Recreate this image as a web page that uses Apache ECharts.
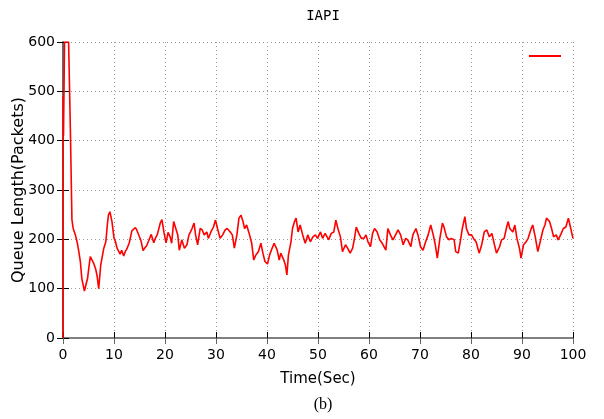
<!DOCTYPE html>
<html>
<head>
<meta charset="utf-8">
<script src="https://cdn.jsdelivr.net/npm/echarts@6/dist/echarts.min.js"></script>
<style>
  html, body { margin: 0; padding: 0; background: #fff; }
  #chart { width: 604px; height: 419px; }
</style>
</head>
<body>
<div id="chart"></div>
<script>
// time (sec) and queue length (packets)
const times = [
  0, 0.02, 0.1, 0.3, 1.1, 1.45, 1.75, 2.0, 2.4, 2.8, 3.1, 3.4, 3.7, 4.2, 4.5, 4.8, 5.1, 5.35, 5.7, 6.0,
  6.4, 6.7, 7.0, 7.4, 7.7, 8.0, 8.4, 8.7, 8.9, 9.2, 9.6, 10.0, 10.3, 10.6, 10.9, 11.2, 11.5, 11.9, 12.2, 12.5,
  13.0, 13.5, 13.8, 14.2, 14.5, 14.8, 15.3, 15.7, 16.0, 16.4, 16.8, 17.3, 17.8, 18.1, 18.5, 18.8, 19.1, 19.4, 19.8, 20.2,
  20.6, 21.0, 21.3, 21.7, 22.0, 22.5, 22.8, 23.3, 23.8, 24.3, 24.7, 25.0, 25.3, 25.7, 26.0, 26.4, 26.9, 27.3, 27.7, 28.2,
  28.5, 29.0, 29.5, 29.9, 30.3, 30.8, 31.3, 31.8, 32.2, 32.8, 33.2, 33.6, 34.1, 34.5, 34.9, 35.3, 35.6, 36.0, 36.5, 37.0,
  37.4, 37.8, 38.3, 38.8, 39.2, 39.6, 40.1, 40.5, 41.0, 41.4, 42.0, 42.4, 42.7, 43.3, 43.6, 43.9, 44.2, 44.7, 45.0, 45.4,
  45.7, 46.1, 46.5, 47.0, 47.5, 48.0, 48.5, 49.0, 49.5, 49.9, 50.5, 50.9, 51.4, 52.1, 52.6, 53.1, 53.5, 53.9, 54.4, 54.8,
  55.4, 55.8, 56.3, 56.8, 57.2, 57.5, 58.0, 58.5, 59.0, 59.4, 59.8, 60.3, 60.7, 61.1, 61.6, 62.1, 62.6, 63.3, 63.7, 64.2,
  64.7, 65.2, 65.7, 66.2, 66.7, 67.2, 67.6, 68.2, 68.6, 69.2, 69.6, 70.1, 70.6, 71.1, 71.6, 72.1, 72.6, 73.0, 73.4, 73.9,
  74.4, 74.7, 75.2, 75.7, 76.1, 76.7, 77.0, 77.5, 78.0, 78.3, 78.8, 79.1, 79.6, 80.1, 80.6, 81.0, 81.6, 82.1, 82.6, 83.1,
  83.6, 84.1, 84.6, 85.0, 85.6, 86.0, 86.5, 87.0, 87.3, 87.6, 88.2, 88.6, 89.0, 89.5, 89.8, 90.3, 90.8, 91.2, 91.8, 92.1,
  92.6, 93.1, 93.5, 94.1, 94.5, 94.8, 95.4, 95.8, 96.2, 96.7, 97.1, 97.7, 98.1, 98.6, 99.1, 99.4, 100.0
];
const queueLen = [
  0, 490, 410, 600, 600, 420, 240, 222, 210, 193, 175, 155, 120, 95, 108, 120, 145, 165, 158, 152,
  140, 125, 100, 148, 165, 182, 195, 230, 249, 256, 236, 203, 195, 182, 176, 170, 178, 166, 175, 180,
  193, 217, 220, 224, 218, 214, 197, 177, 182, 187, 197, 210, 193, 202, 210, 222, 234, 240, 214, 193,
  214, 205, 192, 236, 233, 209, 178, 199, 182, 189, 209, 215, 222, 233, 209, 189, 222, 219, 209, 215,
  202, 215, 225, 239, 222, 202, 209, 219, 222, 215, 209, 182, 209, 243, 249, 236, 222, 229, 212, 192,
  158, 168, 175, 192, 172, 155, 150, 168, 182, 192, 178, 158, 172, 158, 148, 128, 168, 195, 222, 236,
  243, 215, 229, 209, 192, 209, 195, 205, 209, 202, 215, 202, 212, 199, 212, 215, 239, 222, 205, 175,
  189, 182, 172, 182, 205, 225, 212, 202, 202, 209, 195, 185, 212, 222, 215, 199, 192, 178, 222, 209,
  199, 209, 219, 209, 189, 202, 199, 185, 209, 222, 209, 185, 178, 195, 209, 229, 209, 189, 162, 202,
  233, 225, 205, 199, 202, 199, 175, 172, 202, 222, 246, 222, 209, 209, 200, 195, 172, 189, 215, 219,
  205, 212, 189, 172, 185, 199, 202, 225, 236, 222, 215, 229, 202, 182, 162, 189, 195, 202, 222, 229,
  205, 175, 192, 219, 229, 243, 236, 222, 205, 209, 199, 212, 222, 225, 243, 229, 202
];
const xTicks = [0, 10, 20, 30, 40, 50, 60, 70, 80, 90, 100];
const yTicks = [0, 100, 200, 300, 400, 500, 600];

const chart = echarts.init(document.getElementById('chart'));

const font = 'DejaVu Sans';
const gridLine = { show: true, lineStyle: { color: '#9a9a9a', type: [1, 3], width: 1 } };

const option = {
  animation: false,
  title: [
    {
      text: 'IAPI', left: 318, top: 4, textAlign: 'center',
      textStyle: { fontFamily: 'DejaVu Sans Mono', fontSize: 14, fontWeight: 'normal', color: '#000' }
    },
    {
      text: '(b)', left: 318, top: 392, textAlign: 'center',
      textStyle: { fontFamily: 'Liberation Serif', fontSize: 16, fontWeight: 'normal', color: '#000' }
    }
  ],
  legend: {
    show: true,
    left: 524, top: 50,
    icon: 'rect', itemWidth: 32, itemHeight: 2,
    formatter: () => '',
    data: ['IAPI']
  },
  grid: { left: 63, right: 31, top: 42, bottom: 81, outerBoundsMode: 'none', containLabel: false },
  xAxis: [
    {
      type: 'value', min: xTicks[0], max: xTicks[xTicks.length - 1], interval: 10,
      name: 'Time(Sec)', nameLocation: 'middle', nameGap: 34, nameMoveOverlap: false,
      nameTextStyle: { fontFamily: font, fontSize: 15, color: '#000' },
      axisLine: { lineStyle: { color: '#444', width: 1.5 } },
      axisTick: { inside: true, length: 6, lineStyle: { color: '#000' } },
      axisLabel: { margin: 10, fontFamily: font, fontSize: 14, color: '#000' },
      splitLine: gridLine
    },
    {
      type: 'value', position: 'top', min: 0, max: 100, interval: 10,
      axisLine: { lineStyle: { color: '#888', width: 1.5 } },
      axisTick: { inside: true, length: 6, lineStyle: { color: '#666' } },
      axisLabel: { show: false },
      splitLine: { show: false }
    }
  ],
  yAxis: [
    {
      type: 'value', min: yTicks[0], max: yTicks[yTicks.length - 1], interval: 100,
      name: 'Queue Length(Packets)', nameLocation: 'middle', nameGap: 36, nameMoveOverlap: false,
      nameTextStyle: { fontFamily: font, fontSize: 16, color: '#000' },
      axisLine: { show: true, lineStyle: { color: '#000', width: 1.5 } },
      axisTick: { show: true, inside: true, length: 6, lineStyle: { color: '#000' } },
      axisLabel: { margin: 8, fontFamily: font, fontSize: 14, color: '#000' },
      splitLine: gridLine
    },
    {
      type: 'value', position: 'right', min: 0, max: 600, interval: 100,
      axisLine: { show: true, lineStyle: { color: '#777', width: 1.5 } },
      axisTick: { show: true, inside: true, length: 6, lineStyle: { color: '#000' } },
      axisLabel: { show: false },
      splitLine: { show: false }
    }
  ],
  series: [
    {
      name: 'IAPI',
      type: 'line',
      data: times.map((t, i) => [t, queueLen[i]]),
      showSymbol: false,
      symbol: 'none',
      clip: true,
      lineStyle: { color: '#ff0000', width: 1.6 },
      itemStyle: { color: '#ff0000' }
    }
  ]
};

chart.setOption(option);
</script>
</body>
</html>
